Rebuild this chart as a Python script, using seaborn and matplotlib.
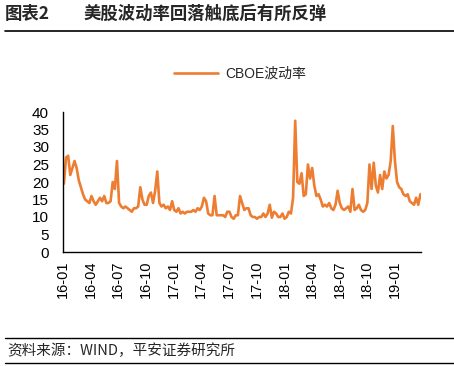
import numpy as np
import pandas as pd
import matplotlib
matplotlib.use("Agg")
import matplotlib.pyplot as plt
import matplotlib.dates as mdates
import seaborn as sns

# weekly CBOE VIX readings (week starting Monday)
start_week = "2016-01-04"
vix_2016 = [19.5, 27, 27.5, 22,
            24, 26, 24, 20.5,
            18.5, 16.5, 15, 14.5, 14,
            16, 14.5, 13.5, 14.5,
            15.5, 14.5, 16, 14, 14,
            14.5, 20, 18, 26,
            14, 13, 12.5, 13,
            12.5, 12, 11.5, 12.5, 12.5,
            13, 18.5, 15, 13.5,
            13.5, 16, 17, 14, 17.5,
            23, 14, 13, 13.5,
            12.5, 13, 12, 14.5]
vix_2017 = [12, 11.5, 12.5, 11, 11.5,
            11, 11.5, 11.5, 11.5,
            12, 11.5, 12.5, 12,
            13, 15.5, 14.5, 11,
            10.5, 10.5, 16, 10.5, 10.5,
            10.5, 10.5, 10, 11.5,
            11.5, 10, 9.5, 10.5, 10.5,
            16, 14, 12, 12.5,
            12.5, 10.5, 10, 10,
            9.5, 10, 10, 11, 10,
            11, 13.5, 9.8, 11.5,
            11, 10, 10, 11]
vix_2018 = [9.5, 10, 11.5, 11, 15.5,
            37.5, 20, 19.5, 22.5,
            16, 16.5, 25, 21,
            24, 19, 16, 16.5, 15,
            13, 13.5, 13, 14,
            12.5, 12, 13.5, 17.5,
            14, 12.5, 12, 12.5, 13,
            11.5, 18, 12, 12.5,
            13.5, 12, 11.5, 12,
            14, 25, 18, 25.5, 19,
            17, 22, 18, 23,
            21, 22, 26, 36]
vix_2019 = [26, 20, 18.5, 18, 16.5,
            16, 16.5, 14.5, 14,
            13.5, 15.5, 13.5, 16.5, 15]

values = vix_2016 + vix_2017 + vix_2018 + vix_2019
dates = pd.date_range(start_week, periods=len(values), freq="W-MON")
df = pd.DataFrame({"date": dates, "CBOE波动率": values})

sns.set_theme(style="white")
plt.rcParams["font.family"] = ["Liberation Sans", "Noto Sans CJK SC", "DejaVu Sans"]

fig = plt.figure(figsize=(4.54, 3.66), dpi=100)
ax = fig.add_axes([63 / 454, 1 - 252 / 366, (421 - 63) / 454, (252 - 112) / 366])

sns.lineplot(data=df, x="date", y="CBOE波动率", ax=ax, color="#ED7D31",
             linewidth=1.9, label="CBOE波动率")

ax.set_ylim(0, 40)
ax.set_yticks(range(0, 41, 5))
ax.set_xlim(pd.Timestamp("2016-01-01"), pd.Timestamp("2019-03-27"))
ax.xaxis.set_major_locator(mdates.MonthLocator(bymonth=[1, 4, 7, 10]))
ax.xaxis.set_major_formatter(mdates.DateFormatter("%y-%m"))
ax.set_xlabel("")
ax.set_ylabel("")
for s in ["top", "right"]:
    ax.spines[s].set_visible(False)
for s in ["left", "bottom"]:
    ax.spines[s].set_color("black")
    ax.spines[s].set_linewidth(1.0)
ax.tick_params(axis="x", direction="in", length=5, width=0.8, color="black",
               labelsize=10.5, rotation=90, pad=6)
ax.tick_params(axis="y", direction="in", length=4, width=0.8, color="black",
               labelsize=11, pad=10)
for t in ax.get_xticklabels() + ax.get_yticklabels():
    t.set_color("black")

leg = ax.legend(loc="center", bbox_to_anchor=((240 - 63) / (421 - 63), (252 - 74) / 140),
                frameon=False, fontsize=10, handlelength=3.2, handletextpad=0.5)

cjk = ["Noto Sans CJK SC", "DejaVu Sans"]
fig.text(5 / 454, 1 - 14 / 366, "图表2", fontsize=12.5, fontweight="bold",
         family=cjk, va="center", ha="left")
fig.text(84 / 454, 1 - 14 / 366, "美股波动率回落触底后有所反弹", fontsize=12.5,
         fontweight="bold", family=cjk, va="center", ha="left")
fig.add_artist(plt.Line2D([5 / 454, 1], [1 - 31 / 366] * 2, color="black", lw=1.2))
fig.add_artist(plt.Line2D([5 / 454, 1], [1 - 338 / 366] * 2, color="black", lw=1.0))
fig.add_artist(plt.Line2D([5 / 454, 1], [1 - 363 / 366] * 2, color="black", lw=1.0))
fig.text(7 / 454, 1 - 351 / 366, "资料来源：WIND，平安证券研究所", fontsize=10.5,
         style="italic", family=cjk, va="center", ha="left")

fig.savefig("out.png", dpi=100)
